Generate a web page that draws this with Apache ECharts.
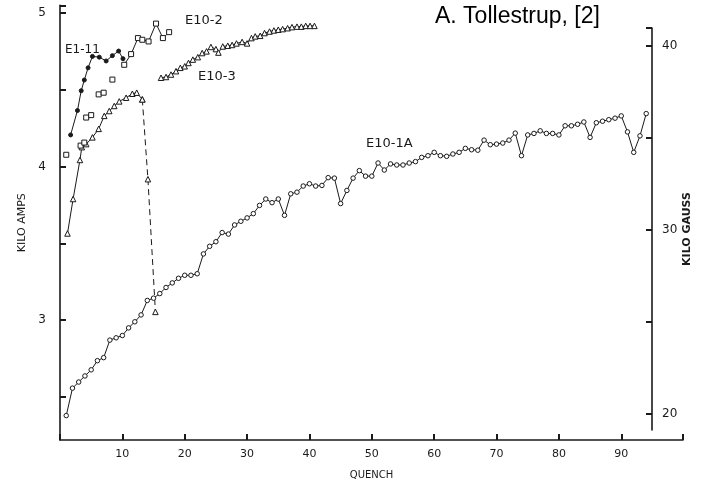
<!DOCTYPE html>
<html><head><meta charset="utf-8">
<script src="https://cdn.jsdelivr.net/npm/echarts@6/dist/echarts.min.js"></script>
<style>html,body{margin:0;padding:0;background:#fff}#c{width:704px;height:485px}</style>
</head><body><div id="c"></div><script>
// ---- data (quench number, kilo-amps) ----
const e101aQ = [1,2,3,4,5,6,7,8,9,10,11,12,13,14,15,16,17,18,19,20,21,22,23,24,25,26,27,28,29,30,31,32,33,34,35,36,37,38,39,40,41,42,43,44,45,46,47,48,49,50,51,52,53,54,55,56,57,58,59,60,61,62,63,64,65,66,67,68,69,70,71,72,73,74,75,76,77,78,79,80,81,82,83,84,85,86,87,88,89,90,91,92,93,94];
const e101aKA = [2.36,2.54,2.58,2.62,2.66,2.72,2.74,2.855,2.87,2.885,2.935,2.975,3.02,3.115,3.13,3.16,3.20,3.23,3.26,3.28,3.28,3.29,3.42,3.47,3.50,3.56,3.55,3.61,3.634,3.656,3.684,3.738,3.78,3.756,3.78,3.673,3.814,3.825,3.865,3.88,3.865,3.869,3.92,3.917,3.75,3.836,3.917,3.966,3.93,3.93,4.016,3.97,4.01,4.003,4.003,4.016,4.025,4.053,4.064,4.086,4.064,4.06,4.075,4.086,4.112,4.103,4.10,4.166,4.136,4.14,4.147,4.166,4.212,4.064,4.20,4.21,4.227,4.21,4.21,4.20,4.26,4.26,4.27,4.285,4.184,4.28,4.29,4.30,4.31,4.325,4.22,4.086,4.194,4.34];

const e103Q  = [1.2,2.1,3.2,3.5,4.2,5.2,6.2,7.1,7.9,8.7,9.5,10.6,11.6,12.3,13.2,14.1,15.3];
const e103KA = [3.554,3.78,4.036,4.12,4.14,4.184,4.24,4.325,4.357,4.39,4.42,4.444,4.47,4.477,4.433,3.91,3.04];
const e103bQ  = [16.2,17.0,17.8,18.6,19.3,20.0,20.6,21.3,22.1,22.8,23.5,24.2,25.0,25.4,26.1,26.9,27.6,28.3,29.2,30.0,30.7,31.3,32.1,32.8,33.6,34.3,35.0,35.7,36.5,37.2,38.0,38.7,39.4,40.1,40.8];
const e103bKA = [4.575,4.58,4.596,4.618,4.64,4.65,4.672,4.694,4.71,4.737,4.748,4.777,4.763,4.74,4.78,4.785,4.79,4.80,4.81,4.80,4.835,4.846,4.85,4.868,4.878,4.885,4.89,4.894,4.90,4.907,4.91,4.91,4.915,4.915,4.915];

const e102aQ  = [1.0,3.3,3.9,4.2,5.0,6.2,7.0,8.4];
const e102aKA = [4.07,4.13,4.15,4.314,4.33,4.466,4.477,4.563];
const e102bQ  = [10.3,11.4,12.5,13.2,14.2,15.4,16.5,17.5];
const e102bKA = [4.66,4.73,4.835,4.824,4.813,4.93,4.835,4.874];

const e111Q  = [1.7,2.8,3.4,3.9,4.5,5.2,6.3,7.4,8.4,9.4,10.1];
const e111KA = [4.20,4.36,4.49,4.56,4.64,4.715,4.71,4.685,4.72,4.75,4.70];

const xLabels  = [10,20,30,40,50,60,70,80,90];
const kaLabels = [3,4,5];
const kgLabels = [20,30,40];

const zip = (a,b) => a.map((v,i)=>[v,b[i]]);
const INK = '#1a1a1a';
const FONT = 'DejaVu Sans';

const chart = echarts.init(document.getElementById('c'), null, {renderer:'canvas'});
const lineBase = {type:'line', xAxisIndex:0, yAxisIndex:0, animation:false,
  lineStyle:{color:INK,width:1}, itemStyle:{color:'#fff',borderColor:INK,borderWidth:1}};
const hiddenX = (g) => ({type:'value', gridIndex:g, min:0, max:99.9, show:false});
const tickStyle = () => ({color:INK,width:2});

chart.setOption({
  backgroundColor:'#fff',
  animation:false,
  grid:[
    {left:60, right:21, top:5.3, bottom:42},   // main plot
    {left:60, right:52, top:28, bottom:55},    // right axis line
    {left:60, right:21, top:5.3, bottom:88},   // left ticks (2.5 .. 5.05)
    {left:60, right:52, top:28, bottom:71}     // right ticks (20 .. 40.98)
  ],
  xAxis:[
    {type:'value', gridIndex:0, min:0, max:99.9, interval:10,
     name:'QUENCH', nameLocation:'middle', nameGap:30,
     nameTextStyle:{fontFamily:FONT,fontSize:10,color:INK},
     axisLine:{onZero:false,lineStyle:{color:INK,width:1.6}},
     axisTick:{show:true,inside:true,length:6,lineStyle:tickStyle()},
     axisLabel:{fontFamily:FONT,fontSize:11,color:INK,margin:9,
       formatter:(v)=> xLabels.includes(v) ? String(v) : ''},
     splitLine:{show:false}},
    hiddenX(1), hiddenX(2), hiddenX(3)
  ],
  yAxis:[
    {type:'value', gridIndex:0, min:2.2, max:5.05, position:'left',
     name:'KILO AMPS', nameLocation:'middle', nameGap:32, nameRotate:90,
     nameTextStyle:{fontFamily:FONT,fontSize:11,color:INK},
     axisLine:{show:true,onZero:false,lineStyle:{color:INK,width:1.6}},
     axisTick:{show:false}, axisLabel:{show:false}, splitLine:{show:false}},
    {type:'value', gridIndex:1, min:19.13, max:40.98, position:'right',
     name:'KILO GAUSS', nameLocation:'middle', nameGap:30, nameRotate:90,
     nameTextStyle:{fontFamily:FONT,fontSize:11,fontWeight:'bold',color:INK},
     axisLine:{show:true,onZero:false,lineStyle:{color:INK,width:1.6}},
     axisTick:{show:false}, axisLabel:{show:false}, splitLine:{show:false}},
    {type:'value', gridIndex:2, min:2.5, max:5.05, interval:0.5, position:'left',
     axisLine:{show:false,onZero:false},
     axisTick:{show:true,inside:true,length:6,lineStyle:tickStyle()},
     axisLabel:{fontFamily:FONT,fontSize:12,color:INK,margin:14,
       formatter:(v)=> kaLabels.includes(v) ? String(v) : ''},
     splitLine:{show:false}},
    {type:'value', gridIndex:3, min:20, max:40.98, interval:5, position:'right',
     axisLine:{show:false,onZero:false},
     axisTick:{show:true,inside:true,length:6,lineStyle:tickStyle()},
     axisLabel:{fontFamily:FONT,fontSize:12,color:INK,margin:10,
       formatter:(v)=> kgLabels.includes(v) ? String(v) : ''},
     splitLine:{show:false}}
  ],
  series:[
    Object.assign({}, lineBase, {name:'E10-1A', data:zip(e101aQ,e101aKA), symbol:'circle', symbolSize:4.5}),
    Object.assign({}, lineBase, {name:'E10-3', data:zip(e103Q,e103KA).slice(0,15), symbol:'triangle', symbolSize:5.5}),
    Object.assign({}, lineBase, {name:'E10-3 drop', data:zip(e103Q,e103KA).slice(14), symbol:'triangle', symbolSize:5.5,
      lineStyle:{color:INK,width:1,type:[6,4]}}),
    Object.assign({}, lineBase, {name:'E10-3b', data:zip(e103bQ,e103bKA), symbol:'triangle', symbolSize:5.5}),
    Object.assign({}, lineBase, {name:'E10-2a', data:zip(e102aQ,e102aKA), symbol:'rect', symbolSize:5,
      lineStyle:{width:0,opacity:0}}),
    Object.assign({}, lineBase, {name:'E10-2', data:zip(e102bQ,e102bKA), symbol:'rect', symbolSize:5}),
    Object.assign({}, lineBase, {name:'E1-11', data:zip(e111Q,e111KA), symbol:'circle', symbolSize:4,
      itemStyle:{color:INK,borderColor:INK}})
  ],
  graphic:[
    {type:'text', left:435, top:5, style:{text:'A. Tollestrup, [2]', font:'23px "Liberation Sans", Arial, sans-serif', fill:'#000'}},
    {type:'text', left:65, top:44, style:{text:'E1-11', font:'12px "DejaVu Sans"', fill:INK}},
    {type:'text', left:185, top:14, style:{text:'E10-2', font:'13px "DejaVu Sans"', fill:INK}},
    {type:'text', left:198, top:70, style:{text:'E10-3', font:'13px "DejaVu Sans"', fill:INK}},
    {type:'text', left:366, top:137, style:{text:'E10-1A', font:'13px "DejaVu Sans"', fill:INK}}
  ]
});
</script></body></html>
